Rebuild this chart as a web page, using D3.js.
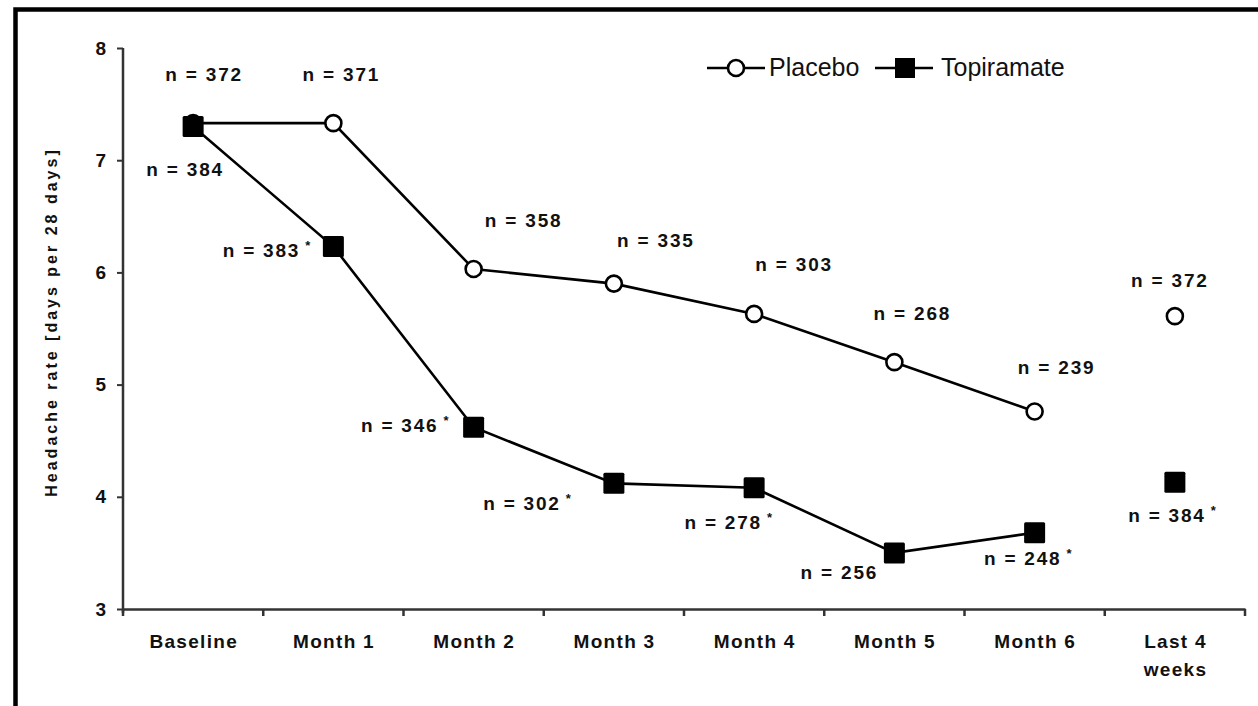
<!DOCTYPE html>
<html>
<head>
<meta charset="utf-8">
<script src="https://cdn.jsdelivr.net/npm/d3@7/dist/d3.min.js"></script>
<style>
  html, body { margin: 0; padding: 0; background: #fff; }
  svg { display: block; }
  text { font-family: "Liberation Sans", Arial, sans-serif; fill: #111; }
</style>
</head>
<body>
<svg id="chart" width="1258" height="706"></svg>
<script>
// ---- data ----
const categories = ["Baseline", "Month 1", "Month 2", "Month 3", "Month 4", "Month 5", "Month 6", "Last 4 weeks"];
const categoryLines = [["Baseline"], ["Month 1"], ["Month 2"], ["Month 3"], ["Month 4"], ["Month 5"], ["Month 6"], ["Last 4", "weeks"]];
const placebo    = [7.33, 7.33, 6.03, 5.90, 5.63, 5.20, 4.76, 5.61];
const topiramate = [7.30, 6.23, 4.62, 4.12, 4.08, 3.50, 3.68, 4.13];
const placeboN    = [372, 371, 358, 335, 303, 268, 239, 372];
const topiramateN = [384, 383, 346, 302, 278, 256, 248, 384];
const topiramateSig = [false, true, true, true, true, false, true, true];
const connectedCount = 7; // Baseline..Month 6 joined by a line; "Last 4 weeks" stands alone
const yTicks = [3, 4, 5, 6, 7, 8];
const seriesNames = ["Placebo", "Topiramate"];
const yTitle = "Headache rate [days per 28 days]";

// ---- layout (label offsets from their point, in px) ----
const placeboLabelOffset = [[11,-49],[8,-49],[50,-49],[42,-44],[40,-50],[18,-49],[22,-45],[-5,-36]];
const topiramateLabelOffset = [[-8,42],[-66,3],[-68,-2],[-86,20],[-25,34],[-55,19],[-6,25],[-2,33]];

const svg = d3.select("#chart");

// frame
svg.append("path")
  .attr("d", "M15.5,710 V9.5 H1262")
  .attr("fill", "none").attr("stroke", "#000").attr("stroke-width", 4.5);

const x = d3.scaleBand().domain(categories).range([123, 1245]).paddingInner(0).paddingOuter(0);
const y = d3.scaleLinear().domain([3, 8]).range([609, 48]);
const cx = c => x(c) + x.bandwidth() / 2;

// y axis
const yAxis = svg.append("g").attr("transform", "translate(123,0)")
  .call(d3.axisLeft(y).tickValues(yTicks).tickFormat(d3.format("d")).tickSize(6).tickSizeOuter(0));
yAxis.select(".domain").attr("stroke", "#333").attr("stroke-width", 2.5)
  .attr("d", "M0,48V613");
yAxis.selectAll(".tick line").attr("stroke", "#333").attr("stroke-width", 2);
yAxis.selectAll(".tick text")
  .attr("x", -17)
  .style("font-size", "19px").style("font-weight", "bold").attr("fill", "#111");

// x axis
const xAxis = svg.append("g").attr("transform", "translate(0,609)")
  .call(d3.axisBottom(x).tickSize(0).tickSizeOuter(0).tickFormat(""));
xAxis.select(".domain").attr("stroke", "#333").attr("stroke-width", 2.5);
xAxis.selectAll(".tick").remove();
const edges = categories.map(c => x(c)).concat([x(categories[categories.length - 1]) + x.bandwidth()]);
xAxis.selectAll("line.edge").data(edges).enter().append("line")
  .attr("class", "edge")
  .attr("x1", d => d).attr("x2", d => d)
  .attr("y1", 0).attr("y2", 7)
  .attr("stroke", "#333").attr("stroke-width", 2.5);

// x labels
const xl = svg.append("g");
categories.forEach((c, i) => {
  const t = xl.append("text")
    .attr("x", cx(c)).attr("y", 648)
    .attr("text-anchor", "middle")
    .style("font-size", "19px").style("font-weight", "bold").style("letter-spacing", "1.3px");
  categoryLines[i].forEach((line, j) => {
    t.append("tspan").attr("x", cx(c) + 0.65).attr("dy", j === 0 ? 0 : 28).text(line);
  });
});

// y title
svg.append("text")
  .attr("transform", "translate(57,322) rotate(-90)")
  .attr("text-anchor", "middle")
  .style("font-size", "16px").style("font-weight", "bold").style("letter-spacing", "3px")
  .text(yTitle);

// lines
const line = d3.line().x(d => cx(d.c)).y(d => y(d.v));
const pData = categories.map((c, i) => ({ c, v: placebo[i] }));
const tData = categories.map((c, i) => ({ c, v: topiramate[i] }));

svg.append("path").datum(pData.slice(0, connectedCount))
  .attr("d", line).attr("fill", "none").attr("stroke", "#000").attr("stroke-width", 2.6);
svg.append("path").datum(tData.slice(0, connectedCount))
  .attr("d", line).attr("fill", "none").attr("stroke", "#000").attr("stroke-width", 2.6);

// placebo markers
svg.append("g").selectAll("circle").data(pData).enter().append("circle")
  .attr("cx", d => cx(d.c)).attr("cy", d => y(d.v)).attr("r", 8)
  .attr("fill", "#fff").attr("stroke", "#000").attr("stroke-width", 2.6);

// topiramate markers
const sq = 21;
svg.append("g").selectAll("rect").data(tData).enter().append("rect")
  .attr("x", d => cx(d.c) - sq / 2).attr("y", d => y(d.v) - sq / 2)
  .attr("width", sq).attr("height", sq).attr("rx", 1.5)
  .attr("fill", "#000");

// n labels
const nStyle = sel => sel.attr("text-anchor", "middle")
  .style("font-size", "19px").style("font-weight", "bold").style("letter-spacing", "1.8px");

pData.forEach((d, i) => {
  svg.append("text").call(nStyle)
    .attr("x", cx(d.c) + placeboLabelOffset[i][0])
    .attr("y", y(d.v) + placeboLabelOffset[i][1] + 7)
    .text("n = " + placeboN[i]);
});
tData.forEach((d, i) => {
  const t = svg.append("text").call(nStyle)
    .attr("x", cx(d.c) + topiramateLabelOffset[i][0])
    .attr("y", y(d.v) + topiramateLabelOffset[i][1] + 7);
  t.append("tspan").text("n = " + topiramateN[i]);
  if (topiramateSig[i]) {
    t.append("tspan").attr("dx", 5).attr("dy", -7).style("font-size", "13px").text("*");
  }
});

// legend
const lg = svg.append("g");
lg.append("line").attr("x1", 707).attr("x2", 765).attr("y1", 68).attr("y2", 68)
  .attr("stroke", "#000").attr("stroke-width", 2.6);
lg.append("circle").attr("cx", 736).attr("cy", 68).attr("r", 8)
  .attr("fill", "#fff").attr("stroke", "#000").attr("stroke-width", 2.6);
lg.append("text").attr("x", 769).attr("y", 76).style("font-size", "25px").text(seriesNames[0]);
lg.append("line").attr("x1", 875).attr("x2", 933).attr("y1", 68).attr("y2", 68)
  .attr("stroke", "#000").attr("stroke-width", 2.6);
lg.append("rect").attr("x", 895).attr("y", 58).attr("width", 20).attr("height", 20).attr("fill", "#000");
lg.append("text").attr("x", 941).attr("y", 76).style("font-size", "25px").text(seriesNames[1]);
</script>
</body>
</html>
